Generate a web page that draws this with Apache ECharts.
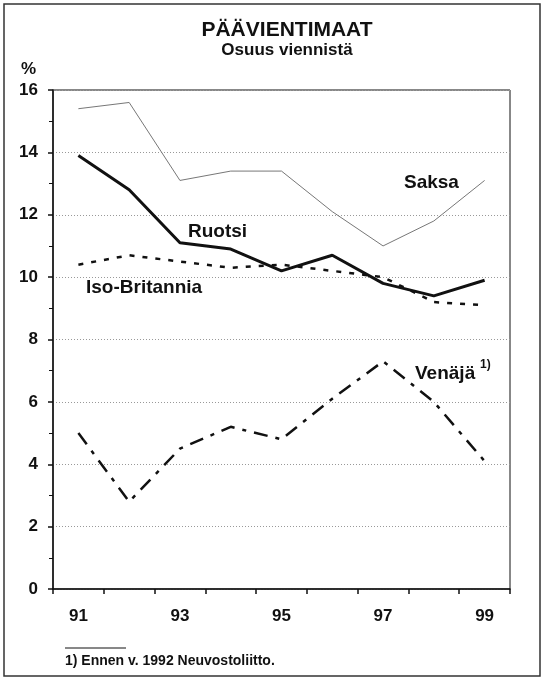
<!DOCTYPE html>
<html>
<head>
<meta charset="utf-8">
<script src="https://cdn.jsdelivr.net/npm/echarts@6/dist/echarts.min.js"></script>
<style>
  html, body { margin: 0; padding: 0; background: #fff; }
  #chart { width: 544px; height: 681px; }
</style>
</head>
<body>
<div id="chart"></div>
<script>
const years = ['91', '92', '93', '94', '95', '96', '97', '98', '99'];
const saksa = [15.4, 15.6, 13.1, 13.4, 13.4, 12.1, 11.0, 11.8, 13.1];
const ruotsi = [13.9, 12.8, 11.1, 10.9, 10.2, 10.7, 9.8, 9.4, 9.9];
const isoBritannia = [10.4, 10.7, 10.5, 10.3, 10.4, 10.2, 10.0, 9.2, 9.1];
const venaja = [5.0, 2.8, 4.5, 5.2, 4.8, 6.1, 7.3, 6.0, 4.1];

const font = 'Liberation Sans, Arial, sans-serif';
const chart = echarts.init(document.getElementById('chart'));

chart.setOption({
  animation: false,
  backgroundColor: '#fff',
  title: {
    text: 'PÄÄVIENTIMAAT',
    subtext: 'Osuus viennistä',
    left: 282,
    textAlign: 'center',
    top: 15,
    itemGap: 1,
    textStyle: { fontFamily: font, fontSize: 21, fontWeight: 'bold', color: '#111' },
    subtextStyle: { fontFamily: font, fontSize: 17, fontWeight: 'bold', color: '#111' }
  },
  grid: {
    left: 53, right: 34, top: 90, bottom: 92,
    show: true, borderColor: '#111', borderWidth: 1
  },
  xAxis: {
    type: 'category',
    data: years,
    boundaryGap: true,
    axisLine: { lineStyle: { color: '#111', width: 1.5 } },
    axisTick: { show: true, length: 5, lineStyle: { color: '#111', width: 1.5 } },
    axisLabel: {
      fontFamily: font, fontSize: 17, fontWeight: 'bold', color: '#111', margin: 19,
      formatter: (v, i) => (i % 2 === 0 ? v : '')
    },
    splitLine: { show: false }
  },
  yAxis: {
    type: 'value',
    min: 0, max: 16, interval: 2,
    name: '%',
    nameLocation: 'end',
    nameGap: 12,
    nameTextStyle: { fontFamily: font, fontSize: 17, fontWeight: 'bold', color: '#111', align: 'right', padding: [0, 17, 0, 0] },
    axisLine: { show: true, lineStyle: { color: '#111', width: 1.5 } },
    axisTick: { show: true, length: 5, lineStyle: { color: '#111', width: 1.5 } },
    minorTick: { show: true, splitNumber: 2, length: 4, lineStyle: { color: '#111', width: 1 } },
    axisLabel: { fontFamily: font, fontSize: 17, fontWeight: 'bold', color: '#111', margin: 15 },
    splitLine: { show: true, lineStyle: { color: '#999', type: [1, 2], width: 1 } }
  },
  series: [
    {
      name: 'Saksa', type: 'line', data: saksa, symbol: 'none',
      lineStyle: { color: '#777', width: 1 }
    },
    {
      name: 'Iso-Britannia', type: 'line', data: isoBritannia, symbol: 'none',
      lineStyle: { color: '#111', width: 2.5, type: [5, 8] }
    },
    {
      name: 'Ruotsi', type: 'line', data: ruotsi, symbol: 'none',
      lineStyle: { color: '#111', width: 3 }
    },
    {
      name: 'Venäjä', type: 'line', data: venaja, symbol: 'none',
      lineStyle: { color: '#111', width: 2.5, type: [14, 8, 4, 8] }
    }
  ],
  graphic: [
    { type: 'rect', shape: { x: 4, y: 4, width: 536, height: 672 }, style: { fill: null, stroke: '#333', lineWidth: 1.5 } },
    { type: 'text', left: 404, top: 173, style: { text: 'Saksa', font: 'bold 19px ' + font, fill: '#111' } },
    { type: 'text', left: 188, top: 222, style: { text: 'Ruotsi', font: 'bold 19px ' + font, fill: '#111' } },
    { type: 'text', left: 86, top: 278, style: { text: 'Iso-Britannia', font: 'bold 19px ' + font, fill: '#111' } },
    { type: 'text', left: 415, top: 364, style: { text: 'Venäjä', font: 'bold 19px ' + font, fill: '#111' } },
    { type: 'text', left: 480, top: 359, style: { text: '1)', font: 'bold 12px ' + font, fill: '#111' } },
    { type: 'line', shape: { x1: 65, y1: 648, x2: 126, y2: 648 }, style: { stroke: '#111', lineWidth: 1 } },
    { type: 'text', left: 65, top: 654, style: { text: '1) Ennen v. 1992 Neuvostoliitto.', font: 'bold 14px ' + font, fill: '#111' } }
  ]
});
</script>
</body>
</html>
